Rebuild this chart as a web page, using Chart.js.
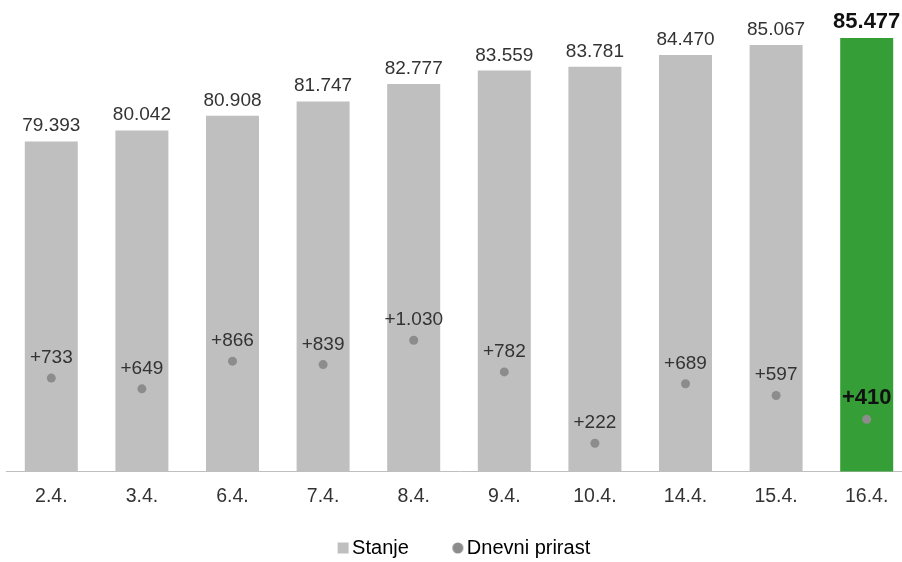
<!DOCTYPE html>
<html lang="hr">
  <head>
    <meta charset="UTF-8" />
    <meta name="viewport" content="width=device-width, initial-scale=1.0" />
    <title>Stanje i dnevni prirast</title>
    <script src="https://cdn.jsdelivr.net/npm/chart.js"></script>
    <style>
      body {
        margin: 0;
        overflow: hidden;
        background: #ffffff;
      }

      .chart-container {
        position: relative;
        width: 912px;
        height: 568px;
      }
    </style>
  </head>

  <body>
    <div class="chart-container">
      <canvas id="barChart"></canvas>
    </div>

    <script>
      // Data
      const dates = ["2.4.", "3.4.", "6.4.", "7.4.", "8.4.", "9.4.", "10.4.", "14.4.", "15.4.", "16.4."];
      const stanje = [79393, 80042, 80908, 81747, 82777, 83559, 83781, 84470, 85067, 85477];
      const prirast = [733, 649, 866, 839, 1030, 782, 222, 689, 597, 410];
      const seriesNames = ["Stanje", "Dnevni prirast"];

      const FONT = '"Liberation Sans", Arial, sans-serif';
      const barGray = "#bfbfbf";
      const barGreen = "#359e37";
      const dotGray = "#8c8c8c";
      const last = dates.length - 1;

      // thousands separator with a dot
      const fmt = (n) => String(n).replace(/\B(?=(\d{3})+(?!\d))/g, ".");

      // small legend marker drawn to the right side of its image
      function markerImage(kind, color) {
        const c = document.createElement("canvas");
        c.width = 46;
        c.height = 12;
        const g = c.getContext("2d");
        g.fillStyle = color;
        if (kind === "rect") {
          g.fillRect(34, 0.5, 11, 11);
        } else {
          g.beginPath();
          g.arc(39.5, 6, 5.5, 0, Math.PI * 2);
          g.fill();
        }
        return c;
      }

      const valueLabels = {
        id: "valueLabels",
        afterDatasetsDraw(chart) {
          const ctx = chart.ctx;
          const barMeta = chart.getDatasetMeta(0);
          const dotMeta = chart.getDatasetMeta(1);
          ctx.save();
          ctx.textAlign = "center";
          ctx.textBaseline = "alphabetic";
          barMeta.data.forEach((bar, i) => {
            const hi = i === last;
            ctx.font = (hi ? "bold 22px " : "19px ") + FONT;
            ctx.fillStyle = hi ? "#111111" : "#333333";
            ctx.fillText(fmt(stanje[i]), bar.x, bar.y - 10);
          });
          dotMeta.data.forEach((pt, i) => {
            const hi = i === last;
            ctx.font = (hi ? "bold 22px " : "19px ") + FONT;
            ctx.fillStyle = hi ? "#111111" : "#333333";
            ctx.fillText("+" + fmt(prirast[i]), pt.x, pt.y - 15);
          });
          ctx.restore();
        },
      };

      new Chart(document.getElementById("barChart"), {
        type: "bar",
        data: {
          labels: dates,
          datasets: [
            {
              label: seriesNames[0],
              data: stanje,
              backgroundColor: dates.map((d, i) => (i === last ? barGreen : barGray)),
              categoryPercentage: 1,
              barPercentage: 0.585,
              yAxisID: "y",
              order: 2,
            },
            {
              type: "line",
              label: seriesNames[1],
              data: prirast,
              showLine: false,
              pointRadius: 4.5,
              pointBackgroundColor: dotGray,
              pointBorderWidth: 0,
              yAxisID: "y2",
              order: 1,
            },
          ],
        },
        options: {
          responsive: true,
          maintainAspectRatio: false,
          animation: false,
          layout: {
            autoPadding: false,
            padding: { top: 12, left: 6, right: 0, bottom: 0 },
          },
          scales: {
            x: {
              grid: { display: false, drawTicks: false },
              border: { display: true, color: barGray, width: 1 },
              ticks: {
                padding: 13,
                color: "#333333",
                font: { family: FONT, size: 19.5 },
              },
            },
            y: { display: false, min: 60000, max: 87000 },
            y2: { display: false, min: 0, max: 3604 },
          },
          plugins: {
            tooltip: { enabled: false },
            legend: {
              position: "bottom",
              labels: {
                usePointStyle: true,
                pointStyleWidth: 31,
                padding: 17,
                color: "#333333",
                font: { family: FONT, size: 20 },
                // trailing spaces only widen the second item so the row sits a bit further left
                generateLabels: () => [
                  {
                    text: seriesNames[0],
                    pointStyle: markerImage("rect", barGray),
                    fillStyle: barGray,
                    strokeStyle: "transparent",
                    lineWidth: 0,
                    hidden: false,
                    datasetIndex: 0,
                  },
                  {
                    text: seriesNames[1] + "   ",
                    pointStyle: markerImage("circle", dotGray),
                    fillStyle: dotGray,
                    strokeStyle: "transparent",
                    lineWidth: 0,
                    hidden: false,
                    datasetIndex: 1,
                  },
                ],
              },
            },
          },
        },
        plugins: [valueLabels],
      });
    </script>
  </body>
</html>
